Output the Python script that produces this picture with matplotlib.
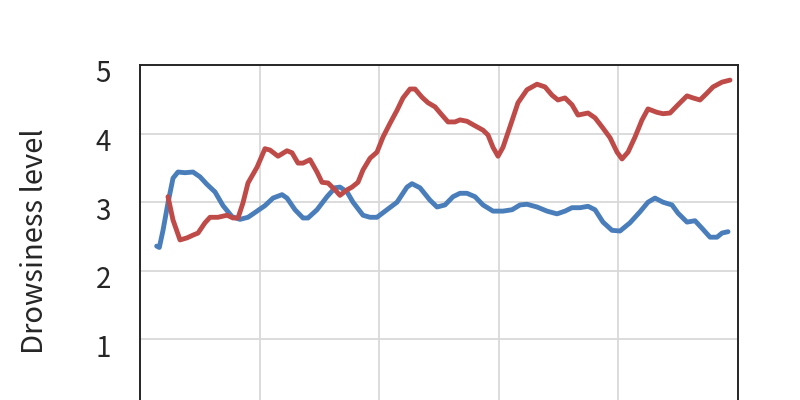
import matplotlib
matplotlib.use('Agg')
import matplotlib.pyplot as plt
from matplotlib.transforms import ScaledTranslation

plt.rcParams['font.family'] = ['Noto Sans CJK JP', 'DejaVu Sans']

# blue series
blue_x = [2.79, 3.23, 3.85, 4.68, 5.52, 6.35, 7.53, 8.86, 10.03, 11.20, 12.54, 13.88,
          15.38, 16.72, 18.06, 19.57, 20.90, 22.24, 23.75, 24.58, 25.92, 27.26, 28.09,
          29.60, 31.27, 32.61, 33.44, 34.62, 35.62, 37.29, 38.46, 39.63, 41.30, 42.98,
          44.65, 45.48, 46.82, 48.49, 49.67, 51.00, 52.34, 53.51, 54.68, 56.02, 57.36,
          59.03, 60.70, 62.21, 63.55, 64.72, 66.39, 68.06, 69.73, 71.07, 72.24, 73.58,
          74.92, 76.09, 77.42, 78.93, 80.27, 81.94, 83.61, 84.95, 86.12, 87.46, 88.96,
          89.97, 91.47, 92.81, 93.98, 95.32, 96.49, 97.32, 98.33]
blue_y = [2.36, 2.34, 2.59, 2.99, 3.35, 3.44, 3.43, 3.44, 3.37, 3.26, 3.15, 2.95,
          2.79, 2.75, 2.78, 2.87, 2.95, 3.06, 3.11, 3.06, 2.89, 2.77, 2.77,
          2.89, 3.08, 3.21, 3.22, 3.15, 3.00, 2.81, 2.78, 2.78, 2.89, 3.00,
          3.22, 3.27, 3.21, 3.03, 2.93, 2.96, 3.08, 3.13, 3.13, 3.08, 2.96,
          2.87, 2.87, 2.89, 2.96, 2.97, 2.93, 2.87, 2.83, 2.87, 2.92, 2.92,
          2.94, 2.89, 2.71, 2.59, 2.58, 2.70, 2.86, 3.00, 3.06, 3.00, 2.96,
          2.84, 2.71, 2.73, 2.62, 2.49, 2.49, 2.55, 2.57]

# red series
red_x = [4.68, 5.52, 6.69, 7.86, 8.86, 9.70, 10.87, 11.71, 13.04, 14.55, 15.55, 16.39,
         17.22, 18.06, 19.57, 20.90, 21.74, 23.08, 24.58, 25.42, 26.42, 27.26, 28.43,
         29.60, 30.43, 31.44, 32.61, 33.44, 34.62, 35.45, 36.45, 37.29, 38.46, 39.63,
         40.64, 41.81, 42.98, 43.98, 45.15, 45.99, 47.16, 48.16, 49.33, 50.50, 51.51,
         52.68, 53.51, 54.68, 55.69, 57.36, 58.19, 59.03, 59.87, 60.70, 61.87, 63.21,
         64.72, 66.39, 67.73, 68.90, 69.90, 71.07, 72.24, 73.24, 74.92, 76.09, 77.42,
         78.60, 79.77, 80.60, 81.61, 82.78, 83.95, 84.95, 86.45, 87.46, 88.63, 89.97,
         91.47, 92.47, 93.65, 94.82, 95.82, 97.32, 98.66]
red_y = [3.08, 2.74, 2.45, 2.48, 2.52, 2.55, 2.70, 2.78, 2.78, 2.81, 2.77, 2.77,
         2.99, 3.28, 3.51, 3.78, 3.76, 3.67, 3.75, 3.72, 3.57, 3.57, 3.62,
         3.44, 3.29, 3.28, 3.18, 3.10, 3.18, 3.22, 3.29, 3.47, 3.64, 3.73,
         3.95, 4.15, 4.34, 4.52, 4.65, 4.65, 4.53, 4.45, 4.39, 4.27, 4.17,
         4.17, 4.20, 4.18, 4.13, 4.05, 3.98, 3.80, 3.67, 3.80, 4.10, 4.45,
         4.64, 4.72, 4.68, 4.56, 4.49, 4.52, 4.42, 4.27, 4.30, 4.23, 4.08,
         3.94, 3.73, 3.63, 3.73, 3.95, 4.20, 4.36, 4.31, 4.29, 4.30, 4.42,
         4.55, 4.52, 4.49, 4.59, 4.68, 4.75, 4.78]

y_ticks = [0, 1, 2, 3, 4, 5]
y_ticklabels = ['', '1', '2', '3', '4', '5']  # 0 falls below the visible area
x_ticks = [0, 20, 40, 60, 80, 100]

fig = plt.figure(figsize=(8, 4), dpi=100)
# plot area runs past the bottom edge, as in the reference
ax = fig.add_axes([140 / 800, -0.02, 598 / 800, 0.8575])

ax.plot(blue_x, blue_y, color='#4a7ebb', linewidth=3.5, solid_capstyle='round',
        solid_joinstyle='round', zorder=3)
ax.plot(red_x, red_y, color='#be4b48', linewidth=3.5, solid_capstyle='round',
        solid_joinstyle='round', zorder=3)

ax.set_xlim(0, 100)
ax.set_ylim(0, 5)
ax.set_xticks(x_ticks)
ax.set_yticks(y_ticks)
ax.set_yticklabels(y_ticklabels)
ax.set_xticklabels([])
ax.grid(True, color='#d9d9d9', linewidth=1.3)
ax.set_axisbelow(True)
ax.tick_params(axis='both', length=0, pad=21, labelsize=20, colors='#262626')

# labels sit slightly below their gridlines in the reference
shift = ScaledTranslation(0, -6 / 100, fig.dpi_scale_trans)
for lab in ax.get_yticklabels():
    lab.set_transform(lab.get_transform() + shift)

for s in ax.spines.values():
    s.set_color('#262626')
    s.set_linewidth(1.4)

ax.set_ylabel('Drowsiness level', fontsize=21, color='#262626', va='center')
ax.yaxis.set_label_coords(-0.176, 0.487)

fig.savefig('out.png', dpi=100)
